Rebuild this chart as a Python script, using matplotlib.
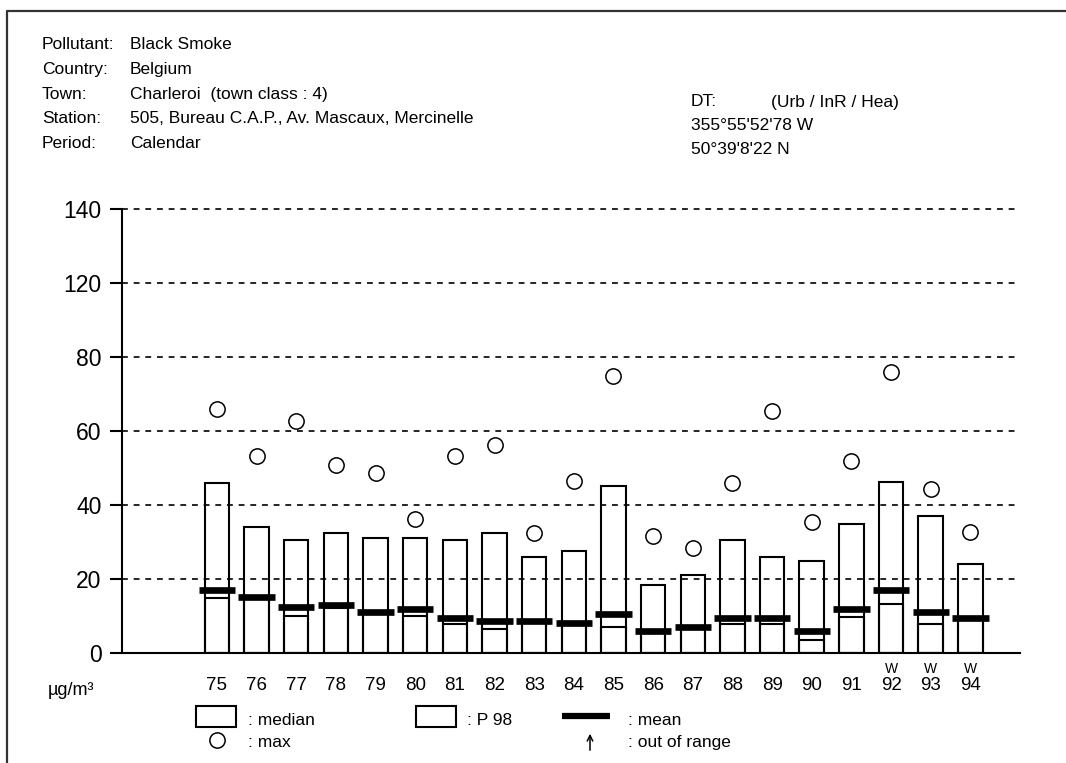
import matplotlib
matplotlib.use("Agg")
import matplotlib.pyplot as plt
from matplotlib.patches import Rectangle
from matplotlib.transforms import blended_transform_factory

plt.rcParams['font.family'] = ['Liberation Sans', 'DejaVu Sans']

# annual statistics, black smoke, ug/m3
years = [75, 76, 77, 78, 79, 80, 81, 82, 83, 84, 85, 86, 87, 88, 89, 90, 91, 92, 93, 94]
p98 = [45.8, 34.0, 30.5, 32.4, 31.1, 31.1, 30.5, 32.4, 25.8, 27.6,
       45.2, 18.2, 21.1, 30.5, 25.8, 24.7, 34.7, 46.3, 36.9, 24.0]
median = [14.7, 14.5, 10.0, 12.2, 10.5, 10.0, 7.8, 6.4, 8.0, 7.6,
          7.0, 5.4, 6.4, 7.8, 7.8, 3.4, 9.7, 13.3, 7.8, 8.8]
mean = [16.9, 15.1, 12.3, 12.8, 11.0, 11.7, 9.4, 8.7, 8.6, 8.1,
        10.5, 5.9, 7.0, 9.4, 9.4, 6.0, 11.7, 16.9, 11.1, 9.4]
maximum = [65.9, 53.2, 62.7, 50.7, 48.6, 36.3, 53.3, 56.3, 32.5, 46.4,
           74.8, 31.5, 28.4, 46.0, 65.4, 35.4, 51.9, 75.9, 44.2, 32.7]
w_years = [92, 93, 94]
ytick_vals = [0, 20, 40, 60, 80, 100, 120]
ytick_labels = ['0', '20', '40', '60', '80', '120', '140']

header = [("Pollutant:", "Black Smoke"),
          ("Country:", "Belgium"),
          ("Town:", "Charleroi  (town class : 4)"),
          ("Station:", "505, Bureau C.A.P., Av. Mascaux, Mercinelle"),
          ("Period:", "Calendar")]

W, H = 1066, 763
fig = plt.figure(figsize=(W / 100, H / 100), dpi=100)

# overlay in pixel coordinates for frame, header and legend
ov = fig.add_axes([0, 0, 1, 1])
ov.set_xlim(0, W)
ov.set_ylim(H, 0)
ov.axis('off')
ov.plot([7, 7, W], [H, 11, 11], color='#333333', lw=1.6, solid_capstyle='butt')

for i, (k, v) in enumerate(header):
    yb = 49 + i * 24.8
    ov.text(42, yb, k, fontsize=12.5, va='baseline', ha='left')
    ov.text(130, yb, v, fontsize=12.5, va='baseline', ha='left')
ov.text(691, 106.5, "DT:", fontsize=12.5, va='baseline')
ov.text(771, 106.5, "(Urb / InR / Hea)", fontsize=12.5, va='baseline')
ov.text(691, 130.5, "355°55'52'78 W", fontsize=12.5, va='baseline')
ov.text(691, 154.5, "50°39'8'22 N", fontsize=12.5, va='baseline')

# legend
ov.add_patch(Rectangle((196, 706), 40, 21, fill=False, lw=1.5, ec='black'))
ov.text(248, 725, ": median", fontsize=12.5, va='baseline')
ov.add_patch(Rectangle((416, 706), 40, 21, fill=False, lw=1.5, ec='black'))
ov.text(467, 725, ": P 98", fontsize=12.5, va='baseline')
ov.plot([562, 610], [716, 716], color='black', lw=4.5, solid_capstyle='butt')
ov.text(628, 725, ": mean", fontsize=12.5, va='baseline')
ov.plot([217], [740], 'o', ms=11, mfc='none', mec='black', mew=1.1)
ov.text(248, 747, ": max", fontsize=12.5, va='baseline')
ov.annotate("", xy=(590, 731), xytext=(590, 753),
            arrowprops=dict(arrowstyle='->', lw=1.1, color='black'))
ov.text(628, 747, ": out of range", fontsize=12.5, va='baseline')
ov.text(48, 695, "µg/m³", fontsize=13, va='baseline')

# main chart
ymax = 121
ax_top = 652.7 - ymax * (652.7 - 209.3) / 120
ax = fig.add_axes([121.7 / W, 1 - 652.7 / H, (1020 - 121.7) / W, (652.7 - ax_top) / H])
ax.patch.set_alpha(0)
ax.set_xlim(72.6, 95.25)
ax.set_ylim(0, ymax)
for s in ['top', 'right']:
    ax.spines[s].set_visible(False)
ax.spines['left'].set_linewidth(1.5)
ax.spines['left'].set_bounds(0, 120)
ax.spines['bottom'].set_linewidth(1.5)

ax.set_axisbelow(True)
ax.yaxis.grid(True, color='black', lw=1.2, linestyle=(0, (3.5, 3.5)))

ax.bar(years, p98, width=0.62, fill=False, edgecolor='black', lw=1.5)
ax.bar(years, median, width=0.62, fill=False, edgecolor='black', lw=1.5)
ax.hlines(mean, [y - 0.46 for y in years], [y + 0.46 for y in years],
          color='black', lw=4.8)
ax.plot(years, maximum, 'o', ms=11, mfc='none', mec='black', mew=1.1, ls='none')

trans = blended_transform_factory(ax.transData, ax.transAxes)
for y in w_years:
    ax.text(y, -0.045, "W", fontsize=10, ha='center', va='baseline',
            transform=trans, clip_on=False)

ax.set_yticks(ytick_vals)
ax.set_yticklabels(ytick_labels, fontsize=16.5)
ax.tick_params(axis='y', length=8.5, width=1.5, pad=6)
ax.set_xticks(years)
ax.set_xticklabels([str(y) for y in years], fontsize=13.5)
ax.tick_params(axis='x', length=0, pad=17.5)

fig.savefig("out.png", dpi=100)
